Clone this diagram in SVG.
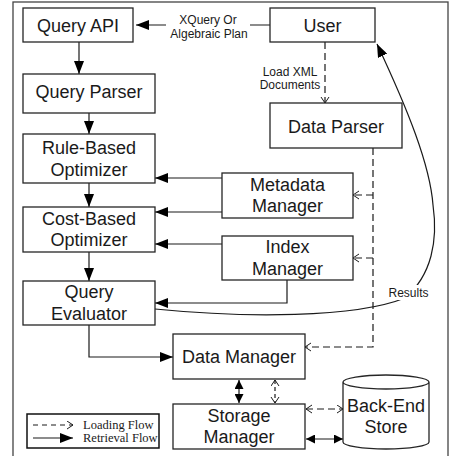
<svg xmlns="http://www.w3.org/2000/svg" width="451" height="456" viewBox="0 0 451 456">
<style>
.box{fill:#fff;stroke:#262626;stroke-width:1.3}
.t{font-family:"Liberation Sans",Arial,sans-serif;font-size:18px;fill:#1a1a1a;text-anchor:middle}
.s{font-family:"Liberation Sans",Arial,sans-serif;font-size:12px;fill:#1a1a1a;text-anchor:middle}
.lg{font-family:"Liberation Serif","Times New Roman",serif;font-size:12.5px;fill:#1a1a1a}
.ln{fill:none;stroke:#1a1a1a;stroke-width:1.2}
.d{fill:none;stroke:#1a1a1a;stroke-width:1.2;stroke-dasharray:7,4}
</style>
<defs>
<marker id="af" markerUnits="userSpaceOnUse" markerWidth="14" markerHeight="10" refX="13" refY="5" orient="auto"><path d="M0,0 L13,5 L0,10 z" fill="#000"/></marker>
<marker id="afs" markerUnits="userSpaceOnUse" markerWidth="10" markerHeight="9" refX="9" refY="4.5" orient="auto-start-reverse"><path d="M0,0 L9,4.5 L0,9 z" fill="#000"/></marker>
<marker id="ao" markerUnits="userSpaceOnUse" markerWidth="8" markerHeight="10" refX="6.5" refY="4.5" orient="auto-start-reverse"><path d="M0.5,0.5 L6.5,4.5 L0.5,8.5" fill="none" stroke="#1a1a1a" stroke-width="1"/></marker>
</defs>
<rect x="13" y="2" width="435" height="470" fill="#fff" stroke="#444" stroke-width="1.3"/>

<g id="connectors">
<path class="ln" d="M270,25 L136,25" marker-end="url(#af)"/>
<rect x="166" y="12" width="84" height="30" fill="#fff"/>
<text class="s" x="208" y="24">XQuery Or</text>
<text class="s" x="209" y="38">Algebraic Plan</text>
<path class="ln" d="M79,42 L79,74" marker-end="url(#af)"/>
<path class="ln" d="M89,113 L89,134" marker-end="url(#af)"/>
<path class="ln" d="M89,183 L89,207" marker-end="url(#af)"/>
<path class="ln" d="M89,252 L89,281" marker-end="url(#af)"/>
<path class="ln" d="M222,178 L155,178" marker-end="url(#af)"/>
<path class="ln" d="M222,212 L155,212" marker-end="url(#af)"/>
<path class="ln" d="M222,244 L155,244" marker-end="url(#af)"/>
<path class="ln" d="M287,280 L287,303 L155,303" marker-end="url(#af)"/>
<path class="ln" d="M89,325 L89,357 L173,357" marker-end="url(#af)"/>
<path class="ln" d="M155,309 C245,318 355,318 405,298 C432,275 438,240 433,205 C430,165 408,110 377,44" marker-end="url(#af)"/>
<rect x="387" y="285" width="44" height="15" fill="#fff"/>
<text class="s" x="408.5" y="297">Results</text>
<path class="d" d="M325,42 L325,103" marker-end="url(#ao)"/>
<text class="s" x="290" y="76">Load XML</text>
<text class="s" x="290" y="89">Documents</text>
<path class="d" d="M373,148 L373,347 L305,347" marker-end="url(#ao)"/>
<path class="d" d="M373,195 L353,195" marker-end="url(#ao)"/>
<path class="d" d="M373,258 L353,258" marker-end="url(#ao)"/>
<path class="ln" d="M239,380 L239,403" marker-start="url(#afs)" marker-end="url(#afs)"/>
<path class="ln" d="M275,380 L275,403" stroke-dasharray="4,3" marker-start="url(#ao)" marker-end="url(#ao)"/>
<path class="d" d="M306,409 L343,409" stroke-dasharray="6,4" marker-start="url(#ao)" marker-end="url(#ao)"/>
<path class="ln" d="M306,439 L343,439" marker-start="url(#afs)" marker-end="url(#afs)"/>
</g>

<g id="query-api"><rect class="box" x="23" y="8" width="110" height="34"/><text class="t" x="78" y="31.5">Query API</text></g>
<g id="user"><rect class="box" x="270" y="8" width="105" height="34"/><text class="t" x="322.5" y="31.5">User</text></g>
<g id="query-parser"><rect class="box" x="23" y="74" width="132" height="39"/><text class="t" x="89" y="97.5">Query Parser</text></g>
<g id="data-parser"><rect class="box" x="270" y="103" width="132" height="45"/><text class="t" x="336" y="132.5">Data Parser</text></g>
<g id="rule-optimizer"><rect class="box" x="23" y="134" width="132" height="49"/><text class="t" x="89" y="154">Rule-Based</text><text class="t" x="89" y="175.5">Optimizer</text></g>
<g id="metadata-manager"><rect class="box" x="222" y="173" width="131" height="45"/><text class="t" x="287.5" y="190.5">Metadata</text><text class="t" x="287.5" y="212">Manager</text></g>
<g id="cost-optimizer"><rect class="box" x="23" y="207" width="132" height="45"/><text class="t" x="89" y="224.5">Cost-Based</text><text class="t" x="89" y="246">Optimizer</text></g>
<g id="index-manager"><rect class="box" x="222" y="236" width="131" height="44"/><text class="t" x="287.5" y="253">Index</text><text class="t" x="287.5" y="274.5">Manager</text></g>
<g id="query-evaluator"><rect class="box" x="23" y="281" width="132" height="44"/><text class="t" x="89" y="298">Query</text><text class="t" x="89" y="320">Evaluator</text></g>
<g id="data-manager"><rect class="box" x="173" y="334" width="132" height="45"/><text class="t" x="239" y="363">Data Manager</text></g>
<g id="storage-manager"><rect class="box" x="173" y="404" width="132" height="45"/><text class="t" x="239" y="421.5">Storage</text><text class="t" x="239" y="443">Manager</text></g>
<g id="back-end-store">
<path class="box" d="M343,382 L343,442 A43,7 0 0 0 429,442 L429,382 A43,7 0 0 0 343,382 A43,7 0 0 0 429,382"/>
<text class="t" x="386" y="412">Back-End</text><text class="t" x="386" y="433">Store</text>
</g>
<g id="legend">
<rect x="27" y="414" width="132" height="34" fill="#fff" stroke="#111" stroke-width="1.5"/>
<path d="M33,425 L73,425" fill="none" stroke="#1a1a1a" stroke-width="1" stroke-dasharray="5,4" marker-end="url(#ao)"/>
<path d="M33,438 L73,438" fill="none" stroke="#1a1a1a" stroke-width="1.2" marker-end="url(#af)"/>
<text class="lg" x="83" y="429">Loading Flow</text>
<text class="lg" x="83" y="442">Retrieval Flow</text>
</g>
</svg>
